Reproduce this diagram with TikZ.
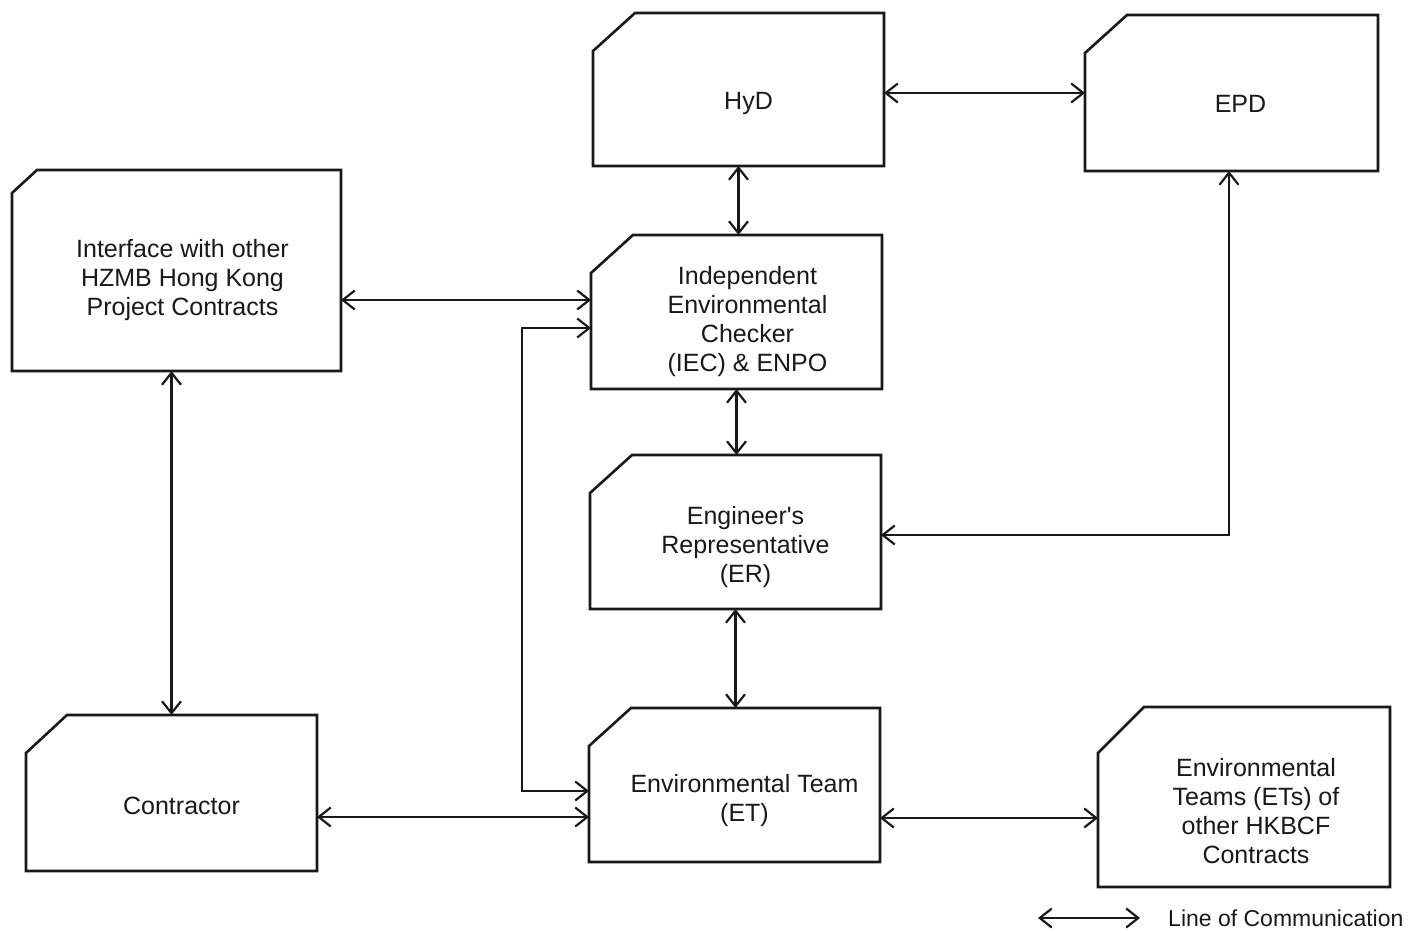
\documentclass[tikz,border=0pt]{standalone}
\usepackage{fontspec}
\setmainfont{Liberation Sans}[Ligatures=TeXOff]
\usetikzlibrary{arrows.meta,calc}
\tikzset{
  boxarea/.style={draw=none, inner sep=0pt, outer sep=0pt},
  boxline/.style={line width=2.6pt, line join=miter, draw=black!90},
  txt/.style={align=center, inner sep=0pt, font=\fontsize{25}{29}\selectfont, text=black!90},
  comm/.style={line width=2.2pt, draw=black!90, {Straight Barb[length=12pt,width=19pt,line width=2.2pt]}-{Straight Barb[length=12pt,width=19pt,line width=2.2pt]}}
}
\newcommand{\cardbox}[7]{%
  % name, x1, y1, x2, y2, cutx, cuty
  \node[boxarea, minimum width={#4-#2}, minimum height={#5-#3}] (#1) at ({(#2+#4)/2},{(#3+#5)/2}) {};
  \draw[boxline] ($(#1.north west)+(0,#7)$) -- ($(#1.north west)+(#6,0)$) -- (#1.north east) -- (#1.south east) -- (#1.south west) -- cycle;
}
\begin{document}
\begin{tikzpicture}[x=1pt,y=-1pt]
\useasboundingbox[fill=white] (0,0) rectangle (1413,933);

\cardbox{hyd}{593}{13}{884}{166}{42}{38}
\cardbox{epd}{1085}{15}{1378}{171}{42}{38}
\cardbox{intf}{12}{170}{341}{371}{25}{23}
\cardbox{iec}{591}{235}{882}{389}{42}{38}
\cardbox{er}{590}{455}{881}{609}{42}{38}
\cardbox{et}{589}{708}{880}{862}{42}{38}
\cardbox{con}{26}{715}{317}{871}{41}{38}
\cardbox{oth}{1098}{707}{1390}{887}{46}{46}

\node[txt] (hydt) at ([xshift=10pt,yshift=-14pt]hyd.center) {HyD};
\node[txt] (epdt) at ([xshift=9pt,yshift=-11pt]epd.center) {EPD};
\node[txt] (intft) at ([xshift=6pt,yshift=-10pt]intf.center) {Interface with other\\HZMB Hong Kong\\Project Contracts};
\node[txt] (iect) at ([xshift=11pt,yshift=-10pt]iec.center) {Independent\\Environmental\\Checker\\(IEC) \& ENPO};
\node[txt] (ert) at ([xshift=10pt,yshift=-15.5pt]er.center) {Engineer's\\Representative\\(ER)};
\node[txt] (ett) at ([xshift=10pt,yshift=-16pt]et.center) {Environmental Team\\(ET)};
\node[txt] (cont) at ([xshift=10pt,yshift=-13pt]con.center) {Contractor};
\node[txt] (otht) at ([xshift=12pt,yshift=-14pt]oth.center) {Environmental\\Teams (ETs) of\\other HKBCF\\Contracts};

% connectors
\coordinate (hydE) at ([yshift=-3.5pt]hyd.east);
\draw[comm] (hydE) -- (hydE -| epd.west);
\draw[comm] (hyd.south) -- (hyd.south |- iec.north);
\coordinate (intfE) at ([yshift=-29.5pt]intf.east);
\draw[comm] (intfE) -- (intfE -| iec.west);
\draw[comm] (iec.south) -- (iec.south |- er.north);
\draw[comm] (er.south) -- (er.south |- et.north);
\coordinate (erE) at ([yshift=-3pt]er.east);
\coordinate (epdS) at ([xshift=-2.5pt]epd.south);
\draw[comm] (erE) -| (epdS);
\draw[comm] (con.north |- intf.south) -- (con.north);
\coordinate (conE) at ([yshift=-24pt]con.east);
\draw[comm] (conE) -- (conE -| et.west);
\coordinate (etE) at ([yshift=-33pt]et.east);
\draw[comm] (etE) -- (etE -| oth.west);
\coordinate (etL) at ([yshift=-6pt]et.west);
\coordinate (iecL) at ([yshift=-16pt]iec.west);
\coordinate (loopx) at (522,0);
\draw[comm] (etL) -- (loopx |- etL) -- (loopx |- iecL) -- (iecL);

% legend
\coordinate (legA) at (1038,918);
\coordinate (legB) at (1140,918);
\draw[comm] (legA) -- (legB);
\node[anchor=west, inner sep=0pt, font=\fontsize{23}{26}\selectfont, text=black!90] (legt) at (1168,918) {Line of Communication};
\end{tikzpicture}
\end{document}
